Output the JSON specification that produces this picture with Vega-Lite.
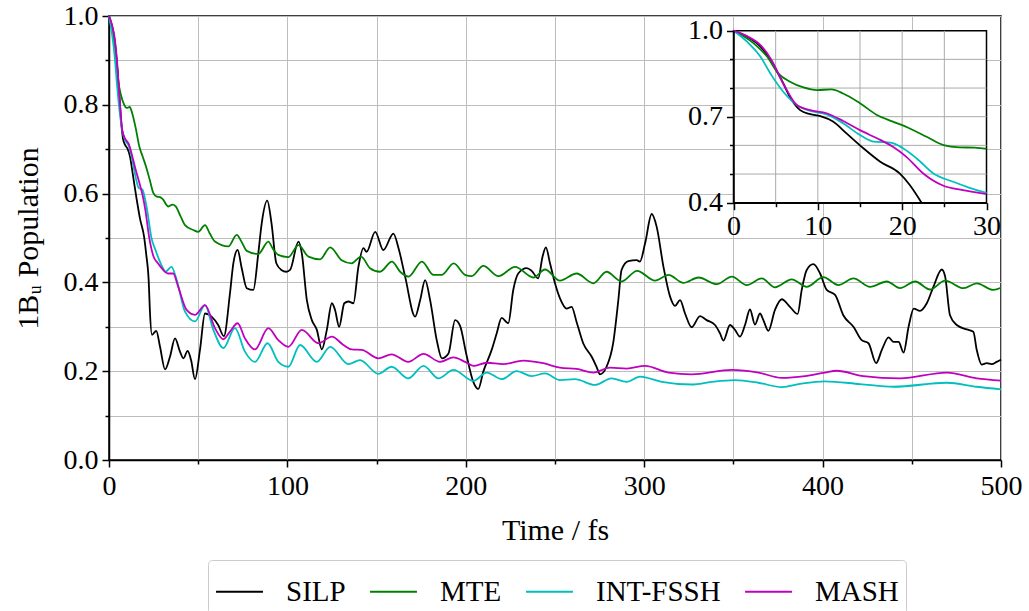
{
  "$schema": "https://vega.github.io/schema/vega-lite/v6.json",
  "description": "1Bu population vs time for four dynamics methods, with a zoomed inset of the first 30 fs",
  "width": 892,
  "height": 444,
  "autosize": "none",
  "padding": {"left": 109, "top": 16, "right": 28, "bottom": 151},
  "config": {
    "font": "Liberation Serif",
    "view": {"stroke": "#000", "strokeWidth": 1.5},
    "axis": {
      "labelFont": "Liberation Serif",
      "titleFont": "Liberation Serif",
      "labelFontSize": 28,
      "titleFontSize": 30,
      "titleFontWeight": "normal",
      "labelColor": "#000",
      "titleColor": "#000",
      "domainColor": "#000",
      "domainWidth": 1.5,
      "tickColor": "#000",
      "tickWidth": 1.5,
      "gridColor": "#bdbdbd",
      "gridWidth": 1
    }
  },
  "datasets": {
    "pop": [
      {"m": "SILP", "t": 0, "p": 1.0}, {"m": "SILP", "t": 1.6, "p": 0.979}, {"m": "SILP", "t": 3.2, "p": 0.944}, {"m": "SILP", "t": 4.5, "p": 0.892},
      {"m": "SILP", "t": 5.7, "p": 0.828}, {"m": "SILP", "t": 6.9, "p": 0.758}, {"m": "SILP", "t": 7.9, "p": 0.723}, {"m": "SILP", "t": 9.1, "p": 0.709},
      {"m": "SILP", "t": 10.3, "p": 0.702}, {"m": "SILP", "t": 11.8, "p": 0.683}, {"m": "SILP", "t": 13.4, "p": 0.642}, {"m": "SILP", "t": 15.4, "p": 0.59},
      {"m": "SILP", "t": 17.4, "p": 0.543}, {"m": "SILP", "t": 19.7, "p": 0.502}, {"m": "SILP", "t": 20.9, "p": 0.462}, {"m": "SILP", "t": 22.3, "p": 0.40},
      {"m": "SILP", "t": 22.9, "p": 0.338}, {"m": "SILP", "t": 24.1, "p": 0.282}, {"m": "SILP", "t": 26.5, "p": 0.291}, {"m": "SILP", "t": 28.6, "p": 0.255},
      {"m": "SILP", "t": 31.4, "p": 0.204}, {"m": "SILP", "t": 34.2, "p": 0.233}, {"m": "SILP", "t": 37, "p": 0.274}, {"m": "SILP", "t": 39.8, "p": 0.244},
      {"m": "SILP", "t": 41.7, "p": 0.229}, {"m": "SILP", "t": 44.1, "p": 0.246}, {"m": "SILP", "t": 46, "p": 0.225}, {"m": "SILP", "t": 48.2, "p": 0.182},
      {"m": "SILP", "t": 51, "p": 0.248}, {"m": "SILP", "t": 53.8, "p": 0.33}, {"m": "SILP", "t": 57.5, "p": 0.323}, {"m": "SILP", "t": 61.2, "p": 0.304},
      {"m": "SILP", "t": 64.4, "p": 0.279}, {"m": "SILP", "t": 67.8, "p": 0.375}, {"m": "SILP", "t": 69.7, "p": 0.443}, {"m": "SILP", "t": 72.1, "p": 0.473},
      {"m": "SILP", "t": 74.4, "p": 0.432}, {"m": "SILP", "t": 77.2, "p": 0.387}, {"m": "SILP", "t": 80.9, "p": 0.383}, {"m": "SILP", "t": 83.7, "p": 0.466},
      {"m": "SILP", "t": 85.6, "p": 0.533}, {"m": "SILP", "t": 88.7, "p": 0.584}, {"m": "SILP", "t": 91.1, "p": 0.533}, {"m": "SILP", "t": 93.8, "p": 0.443},
      {"m": "SILP", "t": 96.6, "p": 0.428}, {"m": "SILP", "t": 99.4, "p": 0.424}, {"m": "SILP", "t": 101.5, "p": 0.428}, {"m": "SILP", "t": 106.2, "p": 0.492},
      {"m": "SILP", "t": 108.1, "p": 0.465}, {"m": "SILP", "t": 110.9, "p": 0.36}, {"m": "SILP", "t": 113.7, "p": 0.315}, {"m": "SILP", "t": 116.5, "p": 0.293},
      {"m": "SILP", "t": 119.3, "p": 0.249}, {"m": "SILP", "t": 122.1, "p": 0.293}, {"m": "SILP", "t": 124.9, "p": 0.353}, {"m": "SILP", "t": 126.7, "p": 0.338},
      {"m": "SILP", "t": 129, "p": 0.3}, {"m": "SILP", "t": 131.9, "p": 0.353}, {"m": "SILP", "t": 134.2, "p": 0.357}, {"m": "SILP", "t": 137, "p": 0.353},
      {"m": "SILP", "t": 139.8, "p": 0.435}, {"m": "SILP", "t": 142.6, "p": 0.477}, {"m": "SILP", "t": 144.4, "p": 0.469}, {"m": "SILP", "t": 149.2, "p": 0.514},
      {"m": "SILP", "t": 153.8, "p": 0.473}, {"m": "SILP", "t": 159.4, "p": 0.51}, {"m": "SILP", "t": 162.3, "p": 0.477}, {"m": "SILP", "t": 166, "p": 0.413},
      {"m": "SILP", "t": 171.6, "p": 0.323}, {"m": "SILP", "t": 174.4, "p": 0.36}, {"m": "SILP", "t": 177.2, "p": 0.405}, {"m": "SILP", "t": 180, "p": 0.36},
      {"m": "SILP", "t": 183.7, "p": 0.27}, {"m": "SILP", "t": 186.6, "p": 0.229}, {"m": "SILP", "t": 190.3, "p": 0.24}, {"m": "SILP", "t": 194, "p": 0.315},
      {"m": "SILP", "t": 196.8, "p": 0.302}, {"m": "SILP", "t": 200.2, "p": 0.24}, {"m": "SILP", "t": 204.2, "p": 0.176}, {"m": "SILP", "t": 207, "p": 0.16},
      {"m": "SILP", "t": 209.8, "p": 0.199}, {"m": "SILP", "t": 214.5, "p": 0.248}, {"m": "SILP", "t": 217.3, "p": 0.285}, {"m": "SILP", "t": 220.1, "p": 0.32},
      {"m": "SILP", "t": 223.8, "p": 0.308}, {"m": "SILP", "t": 226.6, "p": 0.383}, {"m": "SILP", "t": 229.4, "p": 0.42}, {"m": "SILP", "t": 234.1, "p": 0.432},
      {"m": "SILP", "t": 236.9, "p": 0.426}, {"m": "SILP", "t": 240.6, "p": 0.409}, {"m": "SILP", "t": 243, "p": 0.458}, {"m": "SILP", "t": 244.9, "p": 0.479},
      {"m": "SILP", "t": 247.2, "p": 0.443}, {"m": "SILP", "t": 250, "p": 0.398}, {"m": "SILP", "t": 252.8, "p": 0.364}, {"m": "SILP", "t": 256.5, "p": 0.341},
      {"m": "SILP", "t": 259.3, "p": 0.345}, {"m": "SILP", "t": 262.1, "p": 0.311}, {"m": "SILP", "t": 265.8, "p": 0.263}, {"m": "SILP", "t": 270.5, "p": 0.233},
      {"m": "SILP", "t": 273.3, "p": 0.21}, {"m": "SILP", "t": 275.2, "p": 0.193}, {"m": "SILP", "t": 278.9, "p": 0.21}, {"m": "SILP", "t": 282.6, "p": 0.263},
      {"m": "SILP", "t": 285.5, "p": 0.36}, {"m": "SILP", "t": 287.3, "p": 0.428}, {"m": "SILP", "t": 291.1, "p": 0.448}, {"m": "SILP", "t": 295.8, "p": 0.45},
      {"m": "SILP", "t": 297.6, "p": 0.447}, {"m": "SILP", "t": 300.5, "p": 0.488}, {"m": "SILP", "t": 304.2, "p": 0.554}, {"m": "SILP", "t": 307, "p": 0.525},
      {"m": "SILP", "t": 310.8, "p": 0.435}, {"m": "SILP", "t": 314.5, "p": 0.368}, {"m": "SILP", "t": 317.3, "p": 0.347}, {"m": "SILP", "t": 320.1, "p": 0.36},
      {"m": "SILP", "t": 322.9, "p": 0.33}, {"m": "SILP", "t": 326.6, "p": 0.299}, {"m": "SILP", "t": 331.3, "p": 0.324}, {"m": "SILP", "t": 335, "p": 0.315},
      {"m": "SILP", "t": 339.7, "p": 0.304}, {"m": "SILP", "t": 342.5, "p": 0.285}, {"m": "SILP", "t": 344.4, "p": 0.269}, {"m": "SILP", "t": 348.1, "p": 0.304},
      {"m": "SILP", "t": 350.9, "p": 0.293}, {"m": "SILP", "t": 353.7, "p": 0.278}, {"m": "SILP", "t": 356.5, "p": 0.304}, {"m": "SILP", "t": 359.3, "p": 0.339},
      {"m": "SILP", "t": 362.1, "p": 0.305}, {"m": "SILP", "t": 364.9, "p": 0.33}, {"m": "SILP", "t": 366.8, "p": 0.315}, {"m": "SILP", "t": 369.6, "p": 0.291},
      {"m": "SILP", "t": 373.3, "p": 0.338}, {"m": "SILP", "t": 377.1, "p": 0.362}, {"m": "SILP", "t": 381.7, "p": 0.345}, {"m": "SILP", "t": 386, "p": 0.329},
      {"m": "SILP", "t": 388.3, "p": 0.383}, {"m": "SILP", "t": 391.1, "p": 0.428}, {"m": "SILP", "t": 394.8, "p": 0.441}, {"m": "SILP", "t": 398.6, "p": 0.42},
      {"m": "SILP", "t": 402.3, "p": 0.383}, {"m": "SILP", "t": 407, "p": 0.372}, {"m": "SILP", "t": 411.6, "p": 0.326}, {"m": "SILP", "t": 417.3, "p": 0.3},
      {"m": "SILP", "t": 421.9, "p": 0.27}, {"m": "SILP", "t": 425.7, "p": 0.263}, {"m": "SILP", "t": 430, "p": 0.218}, {"m": "SILP", "t": 433.2, "p": 0.248},
      {"m": "SILP", "t": 437, "p": 0.276}, {"m": "SILP", "t": 439.8, "p": 0.266}, {"m": "SILP", "t": 442.6, "p": 0.266}, {"m": "SILP", "t": 445.4, "p": 0.242},
      {"m": "SILP", "t": 448.2, "p": 0.3}, {"m": "SILP", "t": 451.1, "p": 0.341}, {"m": "SILP", "t": 454.6, "p": 0.336}, {"m": "SILP", "t": 458.4, "p": 0.353},
      {"m": "SILP", "t": 462.1, "p": 0.39}, {"m": "SILP", "t": 466.8, "p": 0.429}, {"m": "SILP", "t": 468.7, "p": 0.413}, {"m": "SILP", "t": 471.4, "p": 0.326},
      {"m": "SILP", "t": 475.2, "p": 0.304}, {"m": "SILP", "t": 480.8, "p": 0.294}, {"m": "SILP", "t": 484.5, "p": 0.289}, {"m": "SILP", "t": 486.4, "p": 0.248},
      {"m": "SILP", "t": 489.2, "p": 0.215}, {"m": "SILP", "t": 492, "p": 0.218}, {"m": "SILP", "t": 494.8, "p": 0.216}, {"m": "SILP", "t": 497.6, "p": 0.221},
      {"m": "SILP", "t": 500, "p": 0.226},

      {"m": "MTE", "t": 0, "p": 1.0}, {"m": "MTE", "t": 2.4, "p": 0.956}, {"m": "MTE", "t": 4, "p": 0.909}, {"m": "MTE", "t": 5.3, "p": 0.851},
      {"m": "MTE", "t": 6.7, "p": 0.822}, {"m": "MTE", "t": 8.3, "p": 0.802}, {"m": "MTE", "t": 9.9, "p": 0.793}, {"m": "MTE", "t": 11.6, "p": 0.795},
      {"m": "MTE", "t": 13, "p": 0.781}, {"m": "MTE", "t": 15, "p": 0.747}, {"m": "MTE", "t": 17, "p": 0.706}, {"m": "MTE", "t": 18.9, "p": 0.683},
      {"m": "MTE", "t": 20.9, "p": 0.659}, {"m": "MTE", "t": 22.9, "p": 0.63}, {"m": "MTE", "t": 24.9, "p": 0.601}, {"m": "MTE", "t": 26.8, "p": 0.593},
      {"m": "MTE", "t": 28.6, "p": 0.592}, {"m": "MTE", "t": 30, "p": 0.588}, {"m": "MTE", "t": 33.3, "p": 0.571}, {"m": "MTE", "t": 35.5, "p": 0.575},
      {"m": "MTE", "t": 37.4, "p": 0.571}, {"m": "MTE", "t": 40, "p": 0.55}, {"m": "MTE", "t": 42.6, "p": 0.529}, {"m": "MTE", "t": 47.3, "p": 0.518},
      {"m": "MTE", "t": 50, "p": 0.514}, {"m": "MTE", "t": 53.8, "p": 0.529}, {"m": "MTE", "t": 56.5, "p": 0.51}, {"m": "MTE", "t": 59.4, "p": 0.492},
      {"m": "MTE", "t": 66.9, "p": 0.481}, {"m": "MTE", "t": 71.6, "p": 0.507}, {"m": "MTE", "t": 74.5, "p": 0.49}, {"m": "MTE", "t": 77.2, "p": 0.471},
      {"m": "MTE", "t": 83.7, "p": 0.464}, {"m": "MTE", "t": 89.3, "p": 0.492}, {"m": "MTE", "t": 92, "p": 0.475}, {"m": "MTE", "t": 94.9, "p": 0.462},
      {"m": "MTE", "t": 100.5, "p": 0.457}, {"m": "MTE", "t": 106.2, "p": 0.484}, {"m": "MTE", "t": 111.8, "p": 0.458}, {"m": "MTE", "t": 118.3, "p": 0.452},
      {"m": "MTE", "t": 124, "p": 0.479}, {"m": "MTE", "t": 130.4, "p": 0.45}, {"m": "MTE", "t": 136, "p": 0.443}, {"m": "MTE", "t": 141.3, "p": 0.458},
      {"m": "MTE", "t": 146.3, "p": 0.432}, {"m": "MTE", "t": 151.9, "p": 0.424}, {"m": "MTE", "t": 158.6, "p": 0.447}, {"m": "MTE", "t": 163.2, "p": 0.424},
      {"m": "MTE", "t": 167.9, "p": 0.413}, {"m": "MTE", "t": 175.4, "p": 0.447}, {"m": "MTE", "t": 181.9, "p": 0.417}, {"m": "MTE", "t": 186.6, "p": 0.417},
      {"m": "MTE", "t": 193.2, "p": 0.443}, {"m": "MTE", "t": 199.6, "p": 0.417}, {"m": "MTE", "t": 203.3, "p": 0.414}, {"m": "MTE", "t": 209.8, "p": 0.437},
      {"m": "MTE", "t": 218.3, "p": 0.414}, {"m": "MTE", "t": 227.6, "p": 0.435}, {"m": "MTE", "t": 237.9, "p": 0.411}, {"m": "MTE", "t": 244.4, "p": 0.429},
      {"m": "MTE", "t": 252.8, "p": 0.404}, {"m": "MTE", "t": 262.1, "p": 0.42}, {"m": "MTE", "t": 271.5, "p": 0.398}, {"m": "MTE", "t": 278.9, "p": 0.424},
      {"m": "MTE", "t": 287.3, "p": 0.402}, {"m": "MTE", "t": 296, "p": 0.426}, {"m": "MTE", "t": 306.1, "p": 0.404}, {"m": "MTE", "t": 313.6, "p": 0.417},
      {"m": "MTE", "t": 322, "p": 0.399}, {"m": "MTE", "t": 330.4, "p": 0.411}, {"m": "MTE", "t": 340.7, "p": 0.396}, {"m": "MTE", "t": 349.1, "p": 0.413},
      {"m": "MTE", "t": 357.5, "p": 0.394}, {"m": "MTE", "t": 365.9, "p": 0.409}, {"m": "MTE", "t": 373.3, "p": 0.389}, {"m": "MTE", "t": 382.7, "p": 0.407},
      {"m": "MTE", "t": 391.1, "p": 0.39}, {"m": "MTE", "t": 400.4, "p": 0.412}, {"m": "MTE", "t": 408.8, "p": 0.394}, {"m": "MTE", "t": 417.3, "p": 0.409},
      {"m": "MTE", "t": 426.6, "p": 0.39}, {"m": "MTE", "t": 436, "p": 0.402}, {"m": "MTE", "t": 443.4, "p": 0.387}, {"m": "MTE", "t": 451.9, "p": 0.402},
      {"m": "MTE", "t": 460.2, "p": 0.384}, {"m": "MTE", "t": 468.7, "p": 0.404}, {"m": "MTE", "t": 479, "p": 0.387}, {"m": "MTE", "t": 486.4, "p": 0.398},
      {"m": "MTE", "t": 495.7, "p": 0.383}, {"m": "MTE", "t": 500, "p": 0.388},

      {"m": "INT-FSSH", "t": 0, "p": 1.0}, {"m": "INT-FSSH", "t": 1.6, "p": 0.962}, {"m": "INT-FSSH", "t": 3.2, "p": 0.909}, {"m": "INT-FSSH", "t": 4.5, "p": 0.845},
      {"m": "INT-FSSH", "t": 5.9, "p": 0.787}, {"m": "INT-FSSH", "t": 7.5, "p": 0.741}, {"m": "INT-FSSH", "t": 9.1, "p": 0.72}, {"m": "INT-FSSH", "t": 11.05, "p": 0.708},
      {"m": "INT-FSSH", "t": 13, "p": 0.677}, {"m": "INT-FSSH", "t": 15, "p": 0.636}, {"m": "INT-FSSH", "t": 16.6, "p": 0.613}, {"m": "INT-FSSH", "t": 18.75, "p": 0.609},
      {"m": "INT-FSSH", "t": 20.1, "p": 0.59}, {"m": "INT-FSSH", "t": 21.7, "p": 0.555}, {"m": "INT-FSSH", "t": 23.7, "p": 0.502}, {"m": "INT-FSSH", "t": 26.05, "p": 0.473},
      {"m": "INT-FSSH", "t": 28, "p": 0.452}, {"m": "INT-FSSH", "t": 30, "p": 0.434}, {"m": "INT-FSSH", "t": 31.6, "p": 0.424}, {"m": "INT-FSSH", "t": 35, "p": 0.435},
      {"m": "INT-FSSH", "t": 38, "p": 0.405}, {"m": "INT-FSSH", "t": 42.6, "p": 0.334}, {"m": "INT-FSSH", "t": 48.2, "p": 0.312}, {"m": "INT-FSSH", "t": 53.8, "p": 0.349},
      {"m": "INT-FSSH", "t": 58.5, "p": 0.293}, {"m": "INT-FSSH", "t": 64.1, "p": 0.252}, {"m": "INT-FSSH", "t": 70.6, "p": 0.297}, {"m": "INT-FSSH", "t": 76.2, "p": 0.244},
      {"m": "INT-FSSH", "t": 81.8, "p": 0.221}, {"m": "INT-FSSH", "t": 88.9, "p": 0.263}, {"m": "INT-FSSH", "t": 94.9, "p": 0.221}, {"m": "INT-FSSH", "t": 100.5, "p": 0.21},
      {"m": "INT-FSSH", "t": 107.1, "p": 0.259}, {"m": "INT-FSSH", "t": 116.5, "p": 0.221}, {"m": "INT-FSSH", "t": 124, "p": 0.255}, {"m": "INT-FSSH", "t": 134.2, "p": 0.216},
      {"m": "INT-FSSH", "t": 140.7, "p": 0.225}, {"m": "INT-FSSH", "t": 151, "p": 0.194}, {"m": "INT-FSSH", "t": 158.4, "p": 0.21}, {"m": "INT-FSSH", "t": 167.7, "p": 0.184},
      {"m": "INT-FSSH", "t": 176.3, "p": 0.212}, {"m": "INT-FSSH", "t": 184.7, "p": 0.184}, {"m": "INT-FSSH", "t": 193.1, "p": 0.203}, {"m": "INT-FSSH", "t": 204.2, "p": 0.178},
      {"m": "INT-FSSH", "t": 211.7, "p": 0.197}, {"m": "INT-FSSH", "t": 220.1, "p": 0.182}, {"m": "INT-FSSH", "t": 228.5, "p": 0.2}, {"m": "INT-FSSH", "t": 236.9, "p": 0.189},
      {"m": "INT-FSSH", "t": 244.4, "p": 0.195}, {"m": "INT-FSSH", "t": 252.8, "p": 0.18}, {"m": "INT-FSSH", "t": 261.2, "p": 0.182}, {"m": "INT-FSSH", "t": 272.4, "p": 0.169},
      {"m": "INT-FSSH", "t": 281.7, "p": 0.184}, {"m": "INT-FSSH", "t": 290.2, "p": 0.176}, {"m": "INT-FSSH", "t": 297.6, "p": 0.188}, {"m": "INT-FSSH", "t": 309.8, "p": 0.176},
      {"m": "INT-FSSH", "t": 326.6, "p": 0.17}, {"m": "INT-FSSH", "t": 337.8, "p": 0.176}, {"m": "INT-FSSH", "t": 350.9, "p": 0.18}, {"m": "INT-FSSH", "t": 364, "p": 0.174},
      {"m": "INT-FSSH", "t": 377.1, "p": 0.164}, {"m": "INT-FSSH", "t": 388.3, "p": 0.172}, {"m": "INT-FSSH", "t": 401.3, "p": 0.177}, {"m": "INT-FSSH", "t": 421, "p": 0.171},
      {"m": "INT-FSSH", "t": 439.8, "p": 0.165}, {"m": "INT-FSSH", "t": 469.6, "p": 0.174}, {"m": "INT-FSSH", "t": 486.4, "p": 0.165}, {"m": "INT-FSSH", "t": 500, "p": 0.159},

      {"m": "MASH", "t": 0, "p": 1.0}, {"m": "MASH", "t": 1.6, "p": 0.981}, {"m": "MASH", "t": 3.2, "p": 0.95}, {"m": "MASH", "t": 4.5, "p": 0.898},
      {"m": "MASH", "t": 5.9, "p": 0.816}, {"m": "MASH", "t": 7.5, "p": 0.741}, {"m": "MASH", "t": 9.1, "p": 0.723}, {"m": "MASH", "t": 11.05, "p": 0.712},
      {"m": "MASH", "t": 13, "p": 0.685}, {"m": "MASH", "t": 15, "p": 0.653}, {"m": "MASH", "t": 17.4, "p": 0.619}, {"m": "MASH", "t": 18.9, "p": 0.595},
      {"m": "MASH", "t": 20.5, "p": 0.56}, {"m": "MASH", "t": 22.5, "p": 0.502}, {"m": "MASH", "t": 24.9, "p": 0.459}, {"m": "MASH", "t": 27.2, "p": 0.444},
      {"m": "MASH", "t": 30, "p": 0.43}, {"m": "MASH", "t": 33.3, "p": 0.42}, {"m": "MASH", "t": 36, "p": 0.42}, {"m": "MASH", "t": 38.8, "p": 0.39},
      {"m": "MASH", "t": 43.5, "p": 0.338}, {"m": "MASH", "t": 48.2, "p": 0.327}, {"m": "MASH", "t": 53.8, "p": 0.349}, {"m": "MASH", "t": 59.4, "p": 0.297},
      {"m": "MASH", "t": 64.1, "p": 0.272}, {"m": "MASH", "t": 67.8, "p": 0.289}, {"m": "MASH", "t": 72.1, "p": 0.308}, {"m": "MASH", "t": 76.2, "p": 0.274},
      {"m": "MASH", "t": 81.8, "p": 0.249}, {"m": "MASH", "t": 89.3, "p": 0.297}, {"m": "MASH", "t": 94.9, "p": 0.27}, {"m": "MASH", "t": 100.5, "p": 0.255},
      {"m": "MASH", "t": 108.1, "p": 0.293}, {"m": "MASH", "t": 117.4, "p": 0.263}, {"m": "MASH", "t": 124.9, "p": 0.278}, {"m": "MASH", "t": 131.4, "p": 0.259},
      {"m": "MASH", "t": 136, "p": 0.249}, {"m": "MASH", "t": 141.6, "p": 0.248}, {"m": "MASH", "t": 150.9, "p": 0.229}, {"m": "MASH", "t": 158.4, "p": 0.238},
      {"m": "MASH", "t": 167.7, "p": 0.221}, {"m": "MASH", "t": 176.3, "p": 0.239}, {"m": "MASH", "t": 185.6, "p": 0.221}, {"m": "MASH", "t": 193, "p": 0.231},
      {"m": "MASH", "t": 199.6, "p": 0.221}, {"m": "MASH", "t": 204.2, "p": 0.212}, {"m": "MASH", "t": 211.7, "p": 0.219}, {"m": "MASH", "t": 221, "p": 0.216},
      {"m": "MASH", "t": 232.2, "p": 0.224}, {"m": "MASH", "t": 243.4, "p": 0.218}, {"m": "MASH", "t": 252.8, "p": 0.208}, {"m": "MASH", "t": 262.1, "p": 0.205},
      {"m": "MASH", "t": 271.5, "p": 0.197}, {"m": "MASH", "t": 280.8, "p": 0.208}, {"m": "MASH", "t": 290.2, "p": 0.206}, {"m": "MASH", "t": 300.5, "p": 0.212},
      {"m": "MASH", "t": 313.6, "p": 0.197}, {"m": "MASH", "t": 326.6, "p": 0.193}, {"m": "MASH", "t": 349.1, "p": 0.203}, {"m": "MASH", "t": 364, "p": 0.197},
      {"m": "MASH", "t": 377.1, "p": 0.185}, {"m": "MASH", "t": 390.1, "p": 0.189}, {"m": "MASH", "t": 401.3, "p": 0.197}, {"m": "MASH", "t": 407.9, "p": 0.201},
      {"m": "MASH", "t": 422.9, "p": 0.189}, {"m": "MASH", "t": 443.4, "p": 0.184}, {"m": "MASH", "t": 469.6, "p": 0.197}, {"m": "MASH", "t": 486.4, "p": 0.184},
      {"m": "MASH", "t": 500, "p": 0.179}
    ]
  },
  "resolve": {"scale": {"x": "independent", "y": "independent"}},
  "layer": [
    {
      "data": {"name": "pop"},
      "mark": {"type": "line", "strokeWidth": 1.8, "interpolate": "monotone"},
      "encoding": {
        "x": {
          "field": "t", "type": "quantitative",
          "scale": {"domain": [0, 500], "nice": false},
          "axis": {
            "title": "Time / fs",
            "values": [0, 50, 100, 150, 200, 250, 300, 350, 400, 450, 500],
            "labelExpr": "datum.value % 100 === 0 ? datum.label : ''",
            "tickSize": {"condition": {"test": "datum.value % 100 === 0", "value": 7}, "value": 4},
            "labelPadding": 5,
            "titlePadding": 15,
            "labelFlush": false
          }
        },
        "y": {
          "field": "p", "type": "quantitative",
          "scale": {"domain": [0, 1], "nice": false},
          "axis": {
            "title": "1Bᵤ Population",
            "values": [0, 0.1, 0.2, 0.3, 0.4, 0.5, 0.6, 0.7, 0.8, 0.9, 1.0],
            "format": ".1f",
            "labelExpr": "round(datum.value * 10) % 2 === 0 ? datum.label : ''",
            "tickSize": {"condition": {"test": "round(datum.value * 10) % 2 === 0", "value": 7}, "value": 4},
            "labelPadding": 4,
            "titlePadding": 20,
            "labelFlush": false
          }
        },
        "color": {
          "field": "m", "type": "nominal",
          "scale": {
            "domain": ["SILP", "MTE", "INT-FSSH", "MASH"],
            "range": ["#000000", "#008000", "#00bfbf", "#bf00bf"]
          },
          "legend": {
            "title": null,
            "orient": "none",
            "legendX": 99,
            "legendY": 544,
            "direction": "horizontal",
            "symbolType": "stroke",
            "symbolStrokeWidth": 2,
            "symbolSize": 2200,
            "labelFont": "Liberation Serif",
            "labelFontSize": 29,
            "labelColor": "#000",
            "labelOffset": 22,
            "columnPadding": 20,
            "strokeColor": "#cccccc",
            "fillColor": "#ffffff",
            "cornerRadius": 4,
            "padding": 7
          }
        }
      }
    },
    {
      "layer": [
        {
          "data": {"values": [{}]},
          "mark": {"type": "rect", "fill": "#ffffff", "stroke": "#000000", "strokeWidth": 1.5},
          "encoding": {
            "x": {"datum": 0, "type": "quantitative", "title": null, "scale": {"domain": [0, 30], "nice": false, "range": [624.5, 877.5]}},
            "x2": {"datum": 30},
            "y": {"datum": 0.4, "type": "quantitative", "title": null, "scale": {"domain": [0.4, 1.0], "nice": false, "range": [186.7, 14.7]}},
            "y2": {"datum": 1.0}
          }
        },
        {"data": {"values": [{}]}, "mark": {"type": "rule", "stroke": "#aaaaaa", "strokeWidth": 1}, "encoding": {"x": {"datum": 5, "type": "quantitative"}, "y": {"datum": 0.4, "type": "quantitative"}, "y2": {"datum": 1.0}}},
        {"data": {"values": [{}]}, "mark": {"type": "rule", "stroke": "#aaaaaa", "strokeWidth": 1}, "encoding": {"x": {"datum": 10, "type": "quantitative"}, "y": {"datum": 0.4, "type": "quantitative"}, "y2": {"datum": 1.0}}},
        {"data": {"values": [{}]}, "mark": {"type": "rule", "stroke": "#aaaaaa", "strokeWidth": 1}, "encoding": {"x": {"datum": 15, "type": "quantitative"}, "y": {"datum": 0.4, "type": "quantitative"}, "y2": {"datum": 1.0}}},
        {"data": {"values": [{}]}, "mark": {"type": "rule", "stroke": "#aaaaaa", "strokeWidth": 1}, "encoding": {"x": {"datum": 20, "type": "quantitative"}, "y": {"datum": 0.4, "type": "quantitative"}, "y2": {"datum": 1.0}}},
        {"data": {"values": [{}]}, "mark": {"type": "rule", "stroke": "#aaaaaa", "strokeWidth": 1}, "encoding": {"x": {"datum": 25, "type": "quantitative"}, "y": {"datum": 0.4, "type": "quantitative"}, "y2": {"datum": 1.0}}},
        {"data": {"values": [{}]}, "mark": {"type": "rule", "stroke": "#aaaaaa", "strokeWidth": 1}, "encoding": {"y": {"datum": 0.5, "type": "quantitative"}, "x": {"datum": 0, "type": "quantitative"}, "x2": {"datum": 30}}},
        {"data": {"values": [{}]}, "mark": {"type": "rule", "stroke": "#aaaaaa", "strokeWidth": 1}, "encoding": {"y": {"datum": 0.6, "type": "quantitative"}, "x": {"datum": 0, "type": "quantitative"}, "x2": {"datum": 30}}},
        {"data": {"values": [{}]}, "mark": {"type": "rule", "stroke": "#aaaaaa", "strokeWidth": 1}, "encoding": {"y": {"datum": 0.7, "type": "quantitative"}, "x": {"datum": 0, "type": "quantitative"}, "x2": {"datum": 30}}},
        {"data": {"values": [{}]}, "mark": {"type": "rule", "stroke": "#aaaaaa", "strokeWidth": 1}, "encoding": {"y": {"datum": 0.8, "type": "quantitative"}, "x": {"datum": 0, "type": "quantitative"}, "x2": {"datum": 30}}},
        {"data": {"values": [{}]}, "mark": {"type": "rule", "stroke": "#aaaaaa", "strokeWidth": 1}, "encoding": {"y": {"datum": 0.9, "type": "quantitative"}, "x": {"datum": 0, "type": "quantitative"}, "x2": {"datum": 30}}},
        {
          "data": {"name": "pop"},
          "transform": [{"filter": "datum.t <= 30 && datum.p >= 0.4"}],
          "mark": {"type": "line", "strokeWidth": 1.8, "interpolate": "monotone"},
          "encoding": {
            "x": {
              "field": "t", "type": "quantitative",
              "scale": {"domain": [0, 30], "nice": false, "range": [624.5, 877.5]},
              "axis": {
                "title": null,
                "orient": "bottom",
                "offset": -257.3,
                "zindex": 1,
                "grid": false,
                "values": [0, 5, 10, 15, 20, 25, 30],
                "labelExpr": "datum.value % 10 === 0 ? datum.label : ''",
                "tickSize": {"condition": {"test": "datum.value % 10 === 0", "value": 7}, "value": 4},
                "labelPadding": 3,
                "labelFlush": false
              }
            },
            "y": {
              "field": "p", "type": "quantitative",
              "scale": {"domain": [0.4, 1.0], "nice": false, "range": [186.7, 14.7]},
              "axis": {
                "title": null,
                "orient": "left",
                "offset": -624.5,
                "zindex": 1,
                "grid": false,
                "values": [0.4, 0.5, 0.6, 0.7, 0.8, 0.9, 1.0],
                "format": ".1f",
                "labelExpr": "indexof(['0.4', '0.7', '1.0'], datum.label) >= 0 ? datum.label : ''",
                "tickSize": {"condition": {"test": "round(datum.value * 10) % 3 === 1", "value": 7}, "value": 4},
                "labelPadding": 4,
                "labelFlush": false
              }
            },
            "color": {"field": "m", "type": "nominal"}
          }
        }
      ]
    }
  ]
}
